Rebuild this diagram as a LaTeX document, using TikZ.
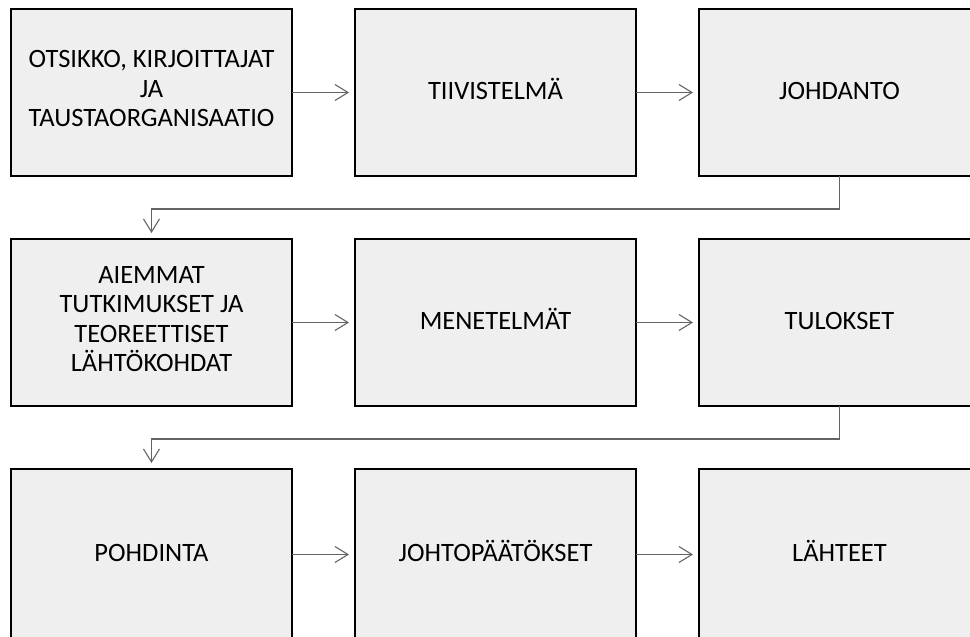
\documentclass[tikz,border=0pt]{standalone}
\usepackage{fontspec}
\setmainfont{Carlito}
\usepackage{xcolor}
\usepackage{tikz}
\usetikzlibrary{arrows.meta, positioning}
\definecolor{BoxGray}{RGB}{239, 239, 239}
\definecolor{LineGray}{RGB}{100, 100, 100}
\newcommand{\boxstrut}{\rule[-7.4pt]{0pt}{29.5pt}}
\tikzset{
  sectionbox/.style={draw=black, fill=BoxGray, line width=1.5pt,
    minimum width=281pt, minimum height=167pt, inner sep=0pt, outer sep=0pt,
    align=center, font=\fontsize{26.5}{29.5}\selectfont,
    execute at begin node=\boxstrut, execute at end node=\boxstrut},
  flowarrow/.style={draw=LineGray, line width=1.1pt,
    -{Straight Barb[length=13pt, width=16pt, line width=1.1pt]}, shorten >=6pt}
}
\begin{document}
\begin{tikzpicture}[x=1pt, y=1pt, node distance=63pt and 63pt]
  \useasboundingbox (0,0) rectangle (970,-637);
  \clip (0,0) rectangle (970,-637);
  % first row
  \node[sectionbox, anchor=north west] (otsikko) at (11,-9)
    {OTSIKKO, KIRJOITTAJAT\\JA\\TAUSTAORGANISAATIO};
  \node[sectionbox, right=of otsikko] (tiivistelma) {TIIVISTELMÄ};
  \node[sectionbox, right=of tiivistelma] (johdanto) {JOHDANTO};
  % second row
  \node[sectionbox, below=of otsikko] (aiemmat)
    {AIEMMAT\\TUTKIMUKSET JA\\TEOREETTISET\\LÄHTÖKOHDAT};
  \node[sectionbox, right=of aiemmat] (menetelmat) {MENETELMÄT};
  \node[sectionbox, right=of menetelmat] (tulokset) {TULOKSET};
  % third row (cut off at the bottom)
  \node[sectionbox, minimum height=171pt, below=of aiemmat] (pohdinta) {POHDINTA};
  \node[sectionbox, minimum height=171pt, right=of pohdinta] (johtopaatokset) {JOHTOPÄÄTÖKSET};
  \node[sectionbox, minimum height=171pt, right=of johtopaatokset] (lahteet) {LÄHTEET};
  % arrows
  \draw[flowarrow] (otsikko) -- (tiivistelma);
  \draw[flowarrow] (tiivistelma) -- (johdanto);
  \draw[flowarrow] (johdanto.south) -- ++(0,-33) -| (aiemmat.north);
  \draw[flowarrow] (aiemmat) -- (menetelmat);
  \draw[flowarrow] (menetelmat) -- (tulokset);
  \draw[flowarrow] (tulokset.south) -- ++(0,-33) -| (pohdinta.north);
  \draw[flowarrow] (pohdinta) -- (johtopaatokset);
  \draw[flowarrow] (johtopaatokset) -- (lahteet);
\end{tikzpicture}
\end{document}
